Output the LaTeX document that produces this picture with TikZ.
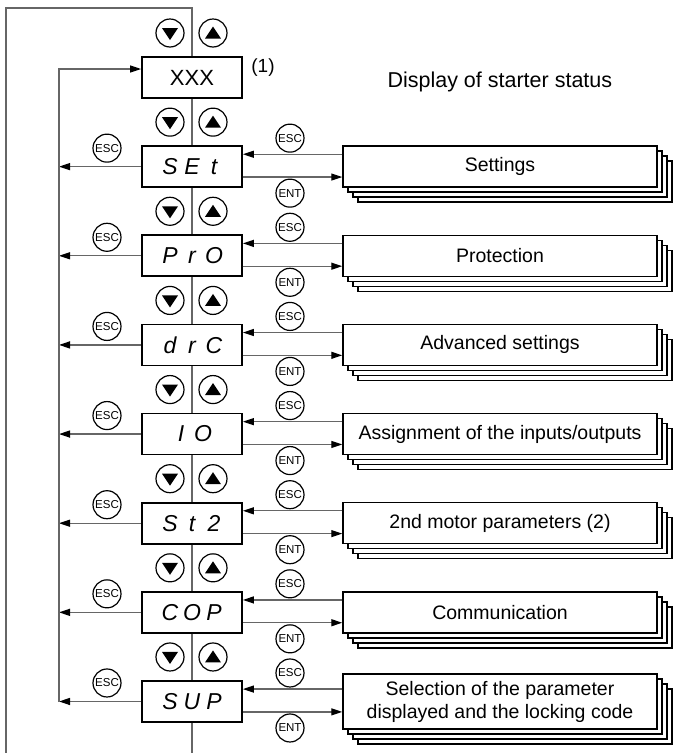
\documentclass[tikz,border=0pt]{standalone}
\usepackage{fontspec}
\setmainfont{Liberation Sans}
\usetikzlibrary{arrows.meta}
\newcommand\sg[1]{\makebox[22pt]{#1}}
\newcommand\menurow[4]{%
  \pgfmathsetmacro\cy{77.5+89.14*#1}%
  \node[menubox] (m#1) at (192,\cy) {#2};
  \node[stackbox, minimum height=#4pt] (s#1c) at (515,\cy+15) {};
  \node[stackbox, minimum height=#4pt] (s#1b) at (510,\cy+10) {};
  \node[stackbox, minimum height=#4pt] (s#1a) at (505,\cy+5) {};
  \node[stackbox, minimum height=#4pt] (s#1) at (500,\cy) {#3};
  \coordinate (in#1) at ([yshift=-9pt]m#1.north east);
  \coordinate (out#1) at ([yshift=11pt]m#1.south east);
  \draw[arr] (in#1 -| s#1.west) -- (in#1);
  \draw[arr] (out#1) -- (out#1 -| s#1.west);
  \draw[arr] (m#1.west) -- (m#1.west -| il);
  \node[key] (escl#1) at (107,\cy-18.5) {ESC};
  \node[key] (escr#1) at (290,\cy-28.5) {ESC};
  \node[key] (ent#1) at (290,\cy+26.5) {ENT};
}
\begin{document}
\begin{tikzpicture}[x=1pt,y=-1pt,
  conn/.style={draw=black!60, line width=1.3pt},
  arr/.style={conn, -{Triangle[length=11pt,width=7pt,color=black]}},
  menubox/.style={draw=black, line width=1.8pt, fill=white, minimum width=100pt,
    minimum height=41pt, inner sep=0pt, font=\fontsize{23}{23}\selectfont\itshape},
  stackbox/.style={draw=black, line width=1.5pt, fill=white, minimum width=314pt,
    inner sep=0pt, align=center, font=\fontsize{19.5}{23}\selectfont},
  btn/.style={draw=black, line width=1.2pt, circle, minimum size=28pt, inner sep=0pt, fill=white},
  key/.style={btn, font=\fontsize{11.5}{12}\selectfont},
]
\useasboundingbox (0,0) rectangle (674,753);
\coordinate (il) at (59,0);
\coordinate (it) at (59,69);
\coordinate (ib) at (59,701.5);
\coordinate (tc) at (192,8);
\coordinate (tl) at (6,8);
\coordinate (bl) at (6,753);
\coordinate (bc) at (192,753);

% XXX
\node[menubox, font=\fontsize{22}{22}\selectfont] (m0) at (192,77.5) {XXX};
\node[anchor=center, font=\fontsize{19}{19}\selectfont] (n1) at (263,68) {(1)};
\node[anchor=west, font=\fontsize{21.5}{24}\selectfont] (title) at (384,82) {Display of starter status};

\menurow{1}{\sg{S}\sg{E}\sg{t}}{Settings}{41}
\menurow{2}{\sg{P}\sg{r}\sg{O}}{Protection}{41}
\menurow{3}{\sg{d}\sg{r}\sg{C}}{Advanced settings}{41}
\menurow{4}{\sg{I}\sg{O}}{Assignment of the inputs/outputs}{41}
\menurow{5}{\sg{S}\sg{t}\sg{2}}{2nd motor parameters (2)}{41}
\menurow{6}{\sg{C}\sg{O}\sg{P}}{Communication}{41}
\menurow{7}{\sg{S}\sg{U}\sg{P}}{Selection of the parameter\\displayed and the locking code}{55}

% outer loop and centre line
\draw[conn] (m0.north) -- (tc) -- (tl) -- (bl);
\draw[conn] (m7.south) -- (bc);
\foreach \i [count=\j] in {0,...,6} {\draw[conn] (m\i.south) -- (m\j.north);}
% inner loop
\draw[arr] (ib) -- (it) -- (it -| m0.west);

% up / down buttons
\foreach \i in {0,...,7} {
  \pgfmathsetmacro\ty{33+89.14*\i}
  \node[btn] (dn\i) at (170,\ty) {};
  \node[btn] (up\i) at (213,\ty) {};
  \fill ([shift={(-8,-5)}]dn\i.center) -- ++(16,0) -- ++(-8,12) -- cycle;
  \fill ([shift={(-8,5.5)}]up\i.center) -- ++(16,0) -- ++(-8,-12) -- cycle;
}
\end{tikzpicture}
\end{document}
